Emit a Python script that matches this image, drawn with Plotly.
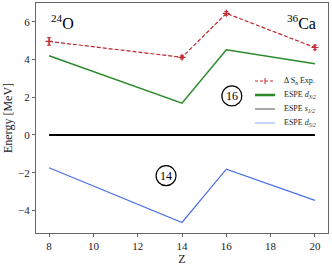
import plotly.graph_objects as go

Z = [8, 14, 16, 20]
dsn_exp = [4.96, 4.12, 6.45, 4.64]
dsn_err = [0.2, 0.08, 0.1, 0.12]
espe_d32 = [4.2, 1.69, 4.52, 3.78]
espe_s12 = [0.0, 0.0, 0.0, 0.0]
espe_d52 = [-1.74, -4.64, -1.81, -3.47]
legend_labels = ["Δ S<sub>n</sub> Exp.", "ESPE <i>d</i><sub><i>3/2</i></sub>",
                 "ESPE <i>s</i><sub><i>1/2</i></sub>", "ESPE <i>d</i><sub><i>5/2</i></sub>"]

FONT = "'Liberation Serif', 'Times New Roman', serif"
RED, GREEN, BLUE = "#c0282d", "#2a8a2a", "#4a6fe3"

fig = go.Figure()
fig.add_trace(go.Scatter(x=Z, y=dsn_exp, mode="lines+markers", name=legend_labels[0],
                         line=dict(color=RED, width=1.2, dash="4px,2px"),
                         marker=dict(symbol="cross-thin", size=5, line=dict(color=RED, width=1.2)),
                         error_y=dict(type="data", array=dsn_err, color=RED, thickness=1, width=2)))
fig.add_trace(go.Scatter(x=Z, y=espe_d32, mode="lines", name=legend_labels[1],
                         line=dict(color=GREEN, width=1.5)))
fig.add_trace(go.Scatter(x=Z, y=espe_s12, mode="lines", name=legend_labels[2],
                         line=dict(color="black", width=2)))
fig.add_trace(go.Scatter(x=Z, y=espe_d52, mode="lines", name=legend_labels[3],
                         line=dict(color=BLUE, width=1.2)))

fig.add_annotation(x=8.0, y=6.0, xref="x", yref="y", text="<sup>24</sup>O", showarrow=False,
                   xanchor="left", yanchor="middle", font=dict(family=FONT, size=16, color="black"))
fig.add_annotation(x=20.15, y=6.0, xref="x", yref="y", text="<sup>36</sup>Ca", showarrow=False,
                   xanchor="right", yanchor="middle", font=dict(family=FONT, size=16, color="black"))

for cx, cy, t in [(16.25, 2.07, "16"), (13.28, -2.16, "14")]:
    fig.add_shape(type="circle", xref="x", yref="y", xsizemode="pixel", ysizemode="pixel",
                  xanchor=cx, yanchor=cy, x0=-10, x1=10, y0=-10, y1=10,
                  line=dict(color="black", width=1.2))
    fig.add_annotation(x=cx, y=cy, text=t, showarrow=False, xref="x", yref="y",
                       font=dict(family=FONT, size=12, color="black"))

# custom legend (paper coordinates of plot area: x 36..328 px, y 3..233 px)
def px(x):
    return (x - 36) / 292
def py(y):
    return (233 - y) / 230

leg_styles = [dict(color=RED, width=1.2, dash="3px,2px"), dict(color=GREEN, width=2.5),
              dict(color="#555", width=1), dict(color="#8fa6f0", width=1)]
rows = [81, 95, 109, 123]
for lab, st, ry in zip(legend_labels, leg_styles, rows):
    fig.add_shape(type="line", xref="paper", yref="paper", x0=px(255), x1=px(275), y0=py(ry), y1=py(ry),
                  line=st)
    fig.add_annotation(x=px(282), y=py(ry), xref="paper", yref="paper", text=lab, showarrow=False,
                       xanchor="left", yanchor="middle", font=dict(family=FONT, size=8, color="#222"))
fig.add_shape(type="line", xref="paper", yref="paper", x0=px(265), x1=px(265), y0=py(rows[0] - 3),
              y1=py(rows[0] + 3), line=dict(color=RED, width=1))

axis_common = dict(showline=True, mirror=True, linecolor="#666", linewidth=1.2, showgrid=False,
                   zeroline=False, ticks="outside", ticklen=3, tickcolor="#666",
                   tickfont=dict(family=FONT, size=11, color="#222"))
fig.update_xaxes(range=[7.41, 20.59], tickvals=[8, 10, 12, 14, 16, 18, 20],
                 title=dict(text="Z", font=dict(family=FONT, size=12, color="#222"), standoff=2),
                 **axis_common)
fig.update_yaxes(range=[-5.2, 7.0], tickvals=[-4, -2, 0, 2, 4, 6],
                 ticktext=["−4", "−2", "0", "2", "4", "6"],
                 title=dict(text="Energy [MeV]", font=dict(family=FONT, size=12, color="#222"), standoff=2),
                 **axis_common)
fig.update_layout(width=332, height=266, margin=dict(l=36, r=4, t=3, b=33),
                  paper_bgcolor="white", plot_bgcolor="white", showlegend=False,
                  font=dict(family=FONT, color="#222"))
fig.write_html("out.html", config={"displayModeBar": False},
               post_script="document.body.style.margin='0';document.body.style.padding='0';")
